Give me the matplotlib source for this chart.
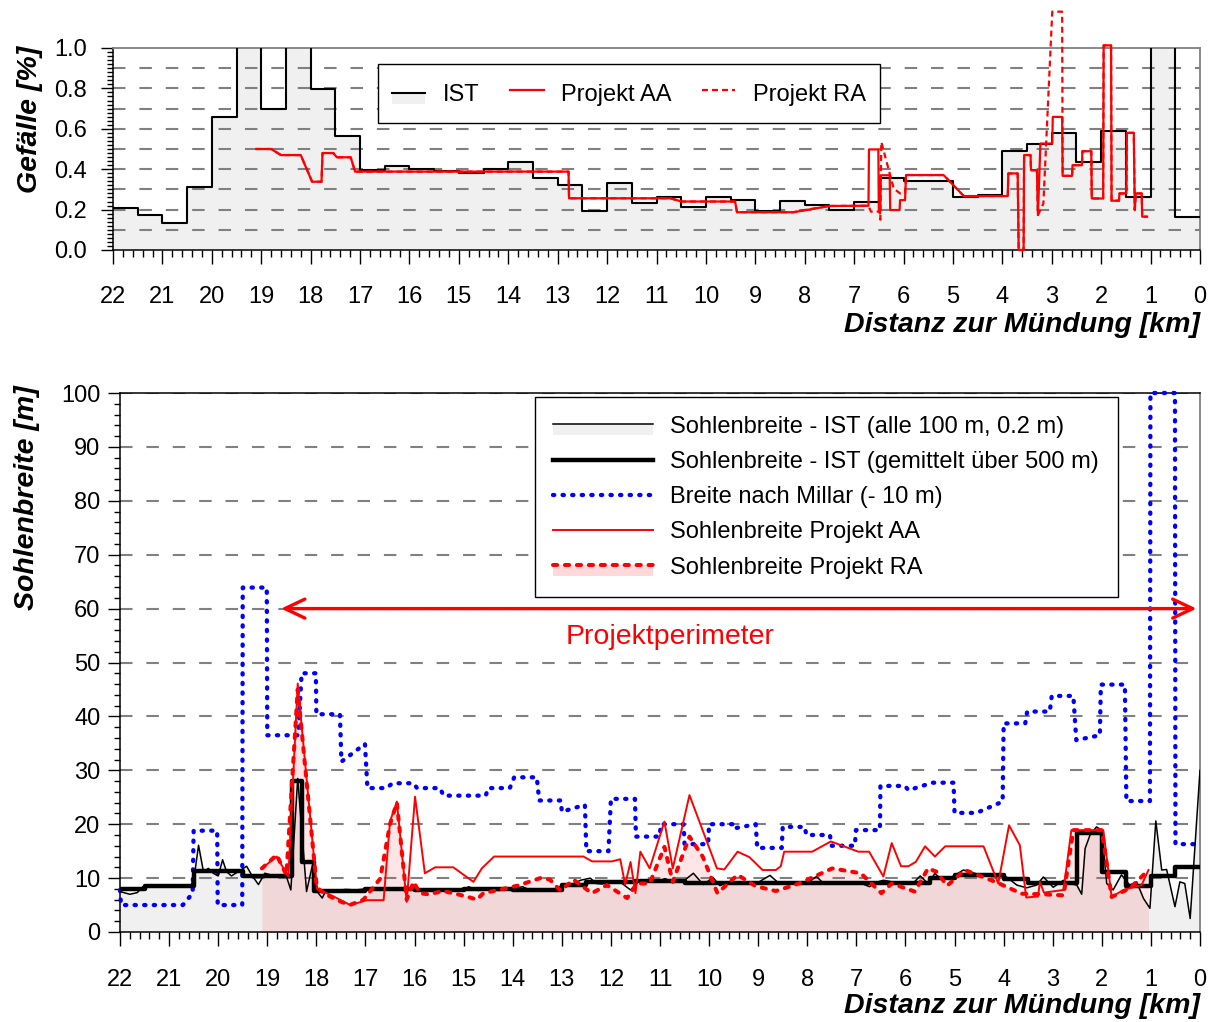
import numpy as np
import matplotlib
matplotlib.use("Agg")
import matplotlib.pyplot as plt
from matplotlib.ticker import MultipleLocator, FormatStrFormatter
from matplotlib.legend_handler import HandlerBase
from matplotlib.patches import Rectangle
from matplotlib.lines import Line2D

plt.rcParams["font.family"] = ["Liberation Sans", "DejaVu Sans"]
plt.rcParams["lines.scale_dashes"] = False

# ---------------- Gefälle (slope) ----------------
slope_edges_km = np.arange(22.0, -0.25, -0.5)
slope_ist = [0.206, 0.173, 0.132, 0.313, 0.659, 1.2, 0.70, 1.2, 0.796, 0.565,
             0.395, 0.417, 0.40, 0.392, 0.379, 0.40, 0.437, 0.357, 0.321, 0.194,
             0.334, 0.231, 0.26, 0.211, 0.26, 0.247, 0.193, 0.244, 0.222, 0.198,
             0.236, 0.357, 0.343, 0.343, 0.264, 0.27, 0.489, 0.524, 0.577, 0.437,
             0.59, 0.26, 1.2, 0.165]

slope_aa_km = [19.1, 18.8, 18.6, 18.2, 17.97, 17.78, 17.76, 17.54, 17.47, 17.19,
               17.10, 12.78, 12.77, 10.72, 10.49, 9.41, 9.37, 8.23, 7.49, 6.71,
               6.70, 6.51, 6.50, 6.47, 6.46, 6.28, 6.27, 6.08, 6.07, 5.97,
               5.95, 5.19, 4.78, 3.89, 3.88, 3.69, 3.67, 3.57, 3.56, 3.43,
               3.42, 3.30, 3.28, 3.23, 2.99, 2.98, 2.79, 2.78, 2.59, 2.58,
               2.39, 2.38, 2.20, 2.19, 1.96, 1.95, 1.80, 1.79, 1.64, 1.63,
               1.49, 1.48, 1.34, 1.32, 1.30, 1.18, 1.17, 1.07]
slope_aa = [0.50, 0.50, 0.47, 0.47, 0.338, 0.338, 0.48, 0.48, 0.459, 0.459,
            0.388, 0.388, 0.256, 0.256, 0.24, 0.24, 0.187, 0.187, 0.218, 0.219,
            0.498, 0.498, 0.19, 0.19, 0.37, 0.37, 0.198, 0.198, 0.247, 0.247,
            0.371, 0.371, 0.267, 0.267, 0.379, 0.379, 0.0, 0.0, 0.47, 0.47,
            0.395, 0.395, 0.173, 0.527, 0.527, 0.659, 0.659, 0.367, 0.367, 0.42,
            0.42, 0.489, 0.489, 0.255, 0.255, 1.013, 1.013, 0.244, 0.244, 0.28,
            0.28, 0.58, 0.58, 0.198, 0.28, 0.28, 0.165, 0.165]

slope_ra_km = [19.1, 18.8, 18.6, 18.2, 17.97, 17.78, 17.76, 17.54, 17.47, 17.19,
               17.10, 12.78, 12.77, 10.72, 10.49, 9.41, 9.37, 8.23, 7.95, 7.49,
               6.71, 6.66, 6.48, 6.47, 6.45, 6.20, 6.07, 5.97, 5.95, 5.19,
               4.78, 3.89, 3.88, 3.69, 3.67, 3.57, 3.56, 3.43, 3.42, 3.30,
               3.28, 3.17, 2.99, 2.79, 2.78, 2.59, 2.58, 2.39, 2.38, 2.20,
               2.19, 1.96, 1.95, 1.80, 1.79, 1.64, 1.63, 1.49, 1.48, 1.34,
               1.32, 1.30, 1.18, 1.17, 1.07]
slope_ra = [0.50, 0.50, 0.47, 0.47, 0.338, 0.338, 0.48, 0.48, 0.459, 0.459,
            0.388, 0.388, 0.256, 0.256, 0.24, 0.24, 0.187, 0.187, 0.20, 0.218,
            0.219, 0.19, 0.19, 0.15, 0.535, 0.305, 0.28, 0.28, 0.371, 0.371,
            0.267, 0.267, 0.379, 0.379, 0.0, 0.0, 0.47, 0.47, 0.395, 0.395,
            0.173, 0.23, 1.18, 1.18, 0.367, 0.367, 0.42, 0.42, 0.489, 0.489,
            0.255, 0.255, 1.013, 1.013, 0.244, 0.244, 0.28, 0.28, 0.58, 0.58,
            0.198, 0.28, 0.28, 0.165, 0.165]

# ---------------- Sohlenbreite (bed width) ----------------
width_ist_km = [22.0, 21.8, 21.65, 21.5, 21.3, 21.1, 20.9, 20.7, 20.55, 20.48,
                20.40, 20.30, 20.20, 20.10, 20.00, 19.91, 19.83, 19.73, 19.59, 19.42,
                19.32, 19.18, 19.05, 18.81, 18.61, 18.52, 18.38, 18.20, 18.08, 17.96,
                17.88, 17.8, 17.6, 17.4, 17.2, 17.0, 16.8, 16.6, 16.4, 16.2,
                16.0, 15.8, 15.6, 15.4, 15.2, 15.0, 14.9, 14.7, 14.5, 14.3,
                14.1, 13.8, 13.6, 13.4, 13.2, 13.0, 12.8, 12.62, 12.42, 12.3,
                12.18, 12.0, 11.8, 11.6, 11.45, 11.3, 11.1, 10.9, 10.7, 10.5,
                10.32, 10.12, 9.92, 9.78, 9.6, 9.4, 9.2, 9.0, 8.76, 8.56,
                8.3, 8.0, 7.81, 7.68, 7.4, 7.2, 6.95, 6.73, 6.6, 6.45,
                6.2, 6.0, 5.85, 5.70, 5.53, 5.40, 5.3, 5.09, 4.82, 4.48,
                4.14, 3.94, 3.73, 3.53, 3.33, 3.19, 2.99, 2.78, 2.65, 2.51,
                2.41, 2.34, 2.24, 2.11, 2.0, 1.9, 1.77, 1.6, 1.43, 1.29,
                1.15, 1.02, 0.9, 0.78, 0.68, 0.51, 0.41, 0.31, 0.2, 0.0]
width_ist = [7.5, 7.0, 7.3, 8.7, 8.6, 8.4, 8.6, 8.4, 8.6, 10.8,
             16.1, 11.2, 11.8, 10.9, 10.4, 13.4, 11.2, 10.4, 11.2, 12.2,
             10.6, 8.8, 10.9, 10.3, 10.3, 7.8, 28.5, 7.5, 12.4, 7.2,
             6.3, 7.8, 7.7, 7.9, 7.8, 8.0, 7.9, 8.1, 7.9, 7.7,
             7.9, 7.8, 7.6, 7.8, 7.9, 7.7, 8.4, 7.7, 7.9, 7.7,
             7.8, 8.4, 7.6, 7.7, 7.8, 8.6, 8.8, 9.6, 10.0, 9.0,
             8.9, 9.4, 9.2, 7.8, 9.2, 9.6, 9.2, 9.9, 9.2, 9.6,
             10.9, 8.8, 10.1, 8.6, 9.3, 9.1, 9.3, 9.2, 10.5, 8.9,
             9.3, 9.1, 10.3, 9.1, 9.3, 9.1, 9.2, 8.4, 9.2, 9.6,
             9.2, 9.3, 9.0, 10.4, 8.9, 10.9, 9.95, 10.0, 11.5, 10.6,
             10.6, 10.2, 8.7, 8.2, 8.7, 10.2, 8.3, 9.6, 9.0, 8.7,
             7.0, 15.5, 18.0, 19.5, 18.9, 9.0, 7.8, 10.6, 8.7, 9.3,
             6.2, 4.4, 20.6, 11.5, 11.6, 4.7, 9.3, 9.0, 2.5, 30.0]

width_mean_edges = [22.0, 21.5, 20.5, 19.5, 18.5, 18.3, 18.05, 17.0, 16.0, 15.0,
                    14.0, 13.0, 12.5, 11.5, 10.5, 5.5, 5.0, 4.0, 3.5, 2.5,
                    2.0, 1.5, 1.0, 0.5, 0.0]
width_mean = [7.9, 8.5, 11.4, 10.4, 28.1, 12.9, 7.6, 7.9, 7.8, 7.9,
              7.7, 8.7, 9.3, 9.5, 9.1, 10.0, 10.6, 9.8, 9.0, 18.4,
              11.2, 8.5, 10.4, 12.1]

millar_km = [22.0, 21.98, 20.72, 20.52, 20.50, 20.02, 20.01, 19.51, 19.50, 19.01,
             19.00, 18.37, 18.30, 18.01, 18.00, 17.52, 17.49, 17.01, 16.96, 16.57,
             16.45, 16.02, 15.95, 15.48, 15.41, 14.55, 14.50, 14.06, 13.97, 13.51,
             13.46, 13.02, 13.00, 12.53, 12.50, 12.05, 12.00, 11.51, 11.49, 11.01,
             10.98, 10.52, 10.50, 10.02, 10.00, 9.51, 9.50, 9.05, 9.02, 8.52,
             8.50, 8.05, 8.02, 7.54, 7.50, 7.03, 7.01, 6.52, 6.51, 6.01,
             5.94, 5.45, 5.02, 5.00, 4.55, 4.02, 4.00, 3.56, 3.52, 3.06,
             3.02, 2.58, 2.52, 2.04, 2.02, 1.53, 1.50, 1.02, 1.01, 0.51,
             0.50, 0.0]
millar = [7.8, 5.0, 5.0, 7.2, 18.8, 18.8, 5.0, 5.0, 63.9, 63.9,
          36.5, 36.5, 48.0, 48.0, 40.4, 40.4, 31.6, 34.9, 26.7, 26.7,
          27.6, 27.6, 26.7, 26.7, 25.3, 25.3, 26.7, 26.7, 28.7, 28.7,
          24.4, 24.4, 22.3, 23.6, 15.0, 15.0, 24.7, 24.7, 17.7, 17.7,
          20.0, 20.0, 16.3, 16.3, 20.0, 20.0, 19.2, 20.0, 15.6, 15.6,
          19.5, 19.5, 18.0, 18.0, 16.0, 16.0, 18.9, 18.9, 27.1, 27.1,
          26.3, 27.7, 27.7, 22.1, 22.1, 24.2, 38.7, 38.7, 40.9, 40.9,
          43.8, 43.8, 35.6, 36.5, 45.9, 45.9, 24.3, 24.3, 100.0, 100.0,
          16.3, 16.3]

width_aa_km = [19.11, 18.81, 18.57, 18.38, 17.99, 17.65, 17.31, 16.97, 16.63, 16.50,
               16.36, 16.16, 15.99, 15.79, 15.58, 15.21, 14.80, 14.63, 14.38, 12.56,
               12.38, 11.98, 11.81, 11.71, 11.60, 11.50, 11.40, 11.21, 10.91, 10.74,
               10.40, 9.84, 9.69, 9.42, 9.18, 8.91, 8.64, 8.54, 8.47, 7.90,
               7.52, 6.96, 6.74, 6.45, 6.28, 6.09, 5.94, 5.79, 5.60, 5.40,
               5.19, 4.41, 4.11, 3.89, 3.67, 3.54, 3.30, 3.26, 3.18, 2.78,
               2.62, 1.97, 1.80, 1.56, 1.19, 1.05]
width_aa = [11.8, 14.0, 10.3, 46.1, 8.1, 6.6, 5.0, 5.9, 5.9, 20.5,
            24.2, 5.6, 25.1, 10.9, 12.0, 12.0, 9.3, 11.8, 14.0, 14.0,
            13.1, 13.1, 13.5, 8.8, 13.0, 7.2, 14.9, 11.8, 20.5, 11.8,
            25.4, 11.8, 11.6, 14.9, 13.9, 11.5, 11.5, 12.2, 14.9, 14.9,
            16.8, 14.9, 14.9, 10.3, 16.5, 12.2, 12.2, 13.0, 15.9, 14.0,
            15.9, 15.9, 9.0, 19.8, 16.1, 6.4, 6.6, 9.3, 7.3, 7.8,
            18.9, 18.9, 6.5, 7.8, 8.7, 11.5]

width_ra_km = [19.11, 18.81, 18.61, 18.38, 17.99, 17.79, 17.52, 17.32, 17.04, 16.70,
               16.50, 16.36, 16.16, 16.02, 15.89, 15.72, 15.41, 14.94, 14.73, 14.60,
               14.29, 13.90, 13.44, 13.24, 13.03, 12.76, 12.39, 12.08, 11.67, 11.47,
               11.21, 10.91, 10.74, 10.40, 10.13, 9.83, 9.42, 9.05, 8.64, 8.17,
               7.49, 6.91, 6.49, 6.28, 5.81, 5.54, 5.37, 5.15, 4.79, 4.14,
               3.63, 3.20, 2.78, 2.58, 2.00, 1.80, 1.43, 1.05]
width_ra = [11.8, 14.3, 10.6, 45.0, 8.2, 6.9, 5.7, 5.0, 6.0, 9.9,
            20.0, 24.0, 6.0, 9.3, 7.2, 7.0, 7.6, 6.6, 6.0, 7.2,
            7.8, 8.6, 10.0, 9.7, 7.7, 9.7, 7.2, 8.7, 6.3, 9.0,
            9.0, 15.8, 9.3, 17.7, 14.0, 7.2, 10.6, 8.5, 7.6, 9.0,
            11.8, 10.9, 7.2, 9.0, 7.5, 11.8, 11.2, 8.6, 11.5, 9.2,
            7.1, 7.0, 6.8, 18.9, 18.9, 6.5, 8.1, 11.5]

perimeter_km = (18.72, 0.07)
perimeter_level = 60

# ---------------- styling helpers ----------------
GRID = dict(color="#808080", lw=1.5, dashes=(9, 10), zorder=1.5)
FILL_GREY = "#f0f0f0"
FILL_PINK = (1.0, 0.0, 0.0, 0.1)
AXIS_FONT = dict(fontsize=20.5, fontweight="bold", fontstyle="italic")
MILLAR_STYLE = dict(color="#0000ff", lw=3.1, dashes=(0.9, 6.0),
                    dash_capstyle="round")
RA_STYLE = dict(color="red", lw=2.9, dashes=(3.0, 5.6), dash_capstyle="round")


class BandLineHandler(HandlerBase):
    """Legend key: a line lying on top of a shaded band."""

    def __init__(self, band_color, line_kw):
        super().__init__()
        self.band_color = band_color
        self.line_kw = line_kw

    def create_artists(self, legend, orig_handle, xdescent, ydescent,
                       width, height, fontsize, trans):
        x0, y0 = -xdescent, -ydescent
        ymid = y0 + height / 2
        band = Rectangle((x0, ymid - 0.47 * fontsize), width, 0.47 * fontsize,
                         facecolor=self.band_color, edgecolor="none",
                         transform=trans)
        line = Line2D([x0, x0 + width], [ymid, ymid], transform=trans,
                      **self.line_kw)
        return [band, line]


def style_axes(ax, xpad, ypad):
    ax.tick_params(axis="x", which="major", direction="out", length=10,
                   width=1.0, pad=xpad, labelsize=17)
    ax.tick_params(axis="x", which="minor", direction="out", length=5, width=1.0)
    ax.tick_params(axis="y", which="major", direction="out", length=9,
                   width=1.0, pad=ypad, labelsize=17)
    ax.tick_params(axis="y", which="minor", direction="out", length=4.5, width=1.0)
    ax.xaxis.set_major_locator(MultipleLocator(1))
    ax.xaxis.set_minor_locator(MultipleLocator(0.2))
    for side in ("left", "bottom"):
        ax.spines[side].set_linewidth(1.1)
    ax.spines["right"].set_color("#808080")
    ax.spines["right"].set_linewidth(1.3)


fig = plt.figure(figsize=(12.15, 10.22), dpi=100)
ax1 = fig.add_axes([113 / 1215, 1 - 250 / 1022, 1087 / 1215, 202 / 1022])
ax2 = fig.add_axes([120 / 1215, 1 - 932 / 1022, 1080 / 1215, 539 / 1022])

# ---- top panel: slope ----
xs = list(slope_edges_km)
ys = slope_ist + [slope_ist[-1]]
ax1.fill_between(xs, 0, ys, step="post", color=FILL_GREY, lw=0, zorder=1)
for v in np.arange(0.1, 0.95, 0.1):
    ax1.axhline(v, **GRID)
ax1.step(xs, ys, where="post", color="black", lw=1.5, zorder=3)
ax1.plot(slope_aa_km, slope_aa, color="red", lw=1.6, zorder=4, clip_on=False)
ax1.plot(slope_ra_km, slope_ra, color="red", lw=1.6, dashes=(4.3, 2.9),
         zorder=4, clip_on=False)

ax1.set_xlim(22, 0)
ax1.set_ylim(0, 1.0)
style_axes(ax1, xpad=16, ypad=10)
ax1.yaxis.set_major_locator(MultipleLocator(0.2))
ax1.yaxis.set_minor_locator(MultipleLocator(0.02))
ax1.yaxis.set_major_formatter(FormatStrFormatter("%.1f"))
ax1.spines["top"].set_color("#808080")
ax1.spines["top"].set_linewidth(1.3)

h_ist = Line2D([], [], color="black", lw=1.5)
h_aa = Line2D([], [], color="red", lw=1.6)
h_ra = Line2D([], [], color="red", lw=1.6, dashes=(4.3, 2.9))
leg1 = ax1.legend([h_ist, h_aa, h_ra], ["IST", "Projekt AA", "Projekt RA"],
                  ncol=3, loc="upper left", bbox_to_anchor=(0.244, 0.921),
                  borderaxespad=0, fancybox=False, edgecolor="black",
                  framealpha=1, fontsize=17, handlelength=1.4,
                  handleheight=1.6, handletextpad=0.75, columnspacing=1.3,
                  borderpad=0.6,
                  handler_map={h_ist: BandLineHandler(
                      FILL_GREY, dict(color="black", lw=1.5))})
leg1.get_frame().set_linewidth(1.0)
leg1.set_zorder(6)

# ---- bottom panel: bed width ----
ax2.fill_between(width_ist_km, 0, width_ist, color=FILL_GREY, lw=0, zorder=0.8)
ax2.fill_between(width_ra_km, 0, width_ra, color=FILL_PINK, lw=0, zorder=0.9)
for v in range(10, 101, 10):
    ax2.axhline(v, **GRID)

ax2.plot(millar_km, millar, zorder=3, clip_on=False, **MILLAR_STYLE)
ax2.plot(width_ist_km, width_ist, color="black", lw=1.1, zorder=3.2)
ax2.step(width_mean_edges, width_mean + [width_mean[-1]], where="post",
         color="black", lw=3.2, zorder=3.4)
ax2.plot(width_aa_km, width_aa, color="red", lw=1.4, zorder=4)
ax2.plot(width_ra_km, width_ra, zorder=4.5, **RA_STYLE)

ax2.annotate("", xy=(perimeter_km[1], perimeter_level),
             xytext=(perimeter_km[0], perimeter_level),
             arrowprops=dict(arrowstyle="<->,head_length=0.4,head_width=0.19",
                             color="red", lw=2.4, mutation_scale=36,
                             shrinkA=0, shrinkB=0), zorder=5)
ax2.text(10.8, 54.7, "Projektperimeter", color="red", fontsize=20.5,
         ha="center", va="center", zorder=5)

ax2.set_xlim(22, 0)
ax2.set_ylim(0, 100)
style_axes(ax2, xpad=17, ypad=5)
ax2.yaxis.set_major_locator(MultipleLocator(10))
ax2.yaxis.set_minor_locator(MultipleLocator(2))
ax2.spines["top"].set_linewidth(1.1)

hb1 = Line2D([], [], color="black", lw=1.1)
hb2 = Line2D([], [], color="black", lw=3.2)
hb3 = Line2D([], [], **MILLAR_STYLE)
hb4 = Line2D([], [], color="red", lw=1.4)
hb5 = Line2D([], [], **RA_STYLE)
leg2 = ax2.legend(
    [hb1, hb2, hb3, hb4, hb5],
    ["Sohlenbreite - IST (alle 100 m, 0.2 m)",
     "Sohlenbreite - IST (gemittelt über 500 m)",
     "Breite nach Millar (- 10 m)",
     "Sohlenbreite Projekt AA",
     "Sohlenbreite Projekt RA"],
    loc="upper right", bbox_to_anchor=(0.924, 0.993), borderaxespad=0,
    fancybox=False, edgecolor="black", framealpha=1, fontsize=17,
    handlelength=4.2, handletextpad=0.75, labelspacing=0.56, borderpad=0.8,
    handler_map={
        hb1: BandLineHandler(FILL_GREY, dict(color="black", lw=1.1)),
        hb5: BandLineHandler((1.0, 0.85, 0.85), RA_STYLE),
    })
leg2.get_frame().set_linewidth(1.0)
leg2.set_zorder(6)

# ---- axis titles ----
fig.text(30 / 1215, 1 - 119 / 1022, "Gefälle [%]", rotation=90,
         ha="center", va="center", **AXIS_FONT)
fig.text(27 / 1215, 1 - 498 / 1022, "Sohlenbreite [m]", rotation=90,
         ha="center", va="center", **AXIS_FONT)
fig.text(1200 / 1215, 1 - 325 / 1022, "Distanz zur Mündung [km]",
         ha="right", va="center", **AXIS_FONT)
fig.text(1200 / 1215, 1 - 1006 / 1022, "Distanz zur Mündung [km]",
         ha="right", va="center", **AXIS_FONT)

fig.savefig("out.png", dpi=100)
